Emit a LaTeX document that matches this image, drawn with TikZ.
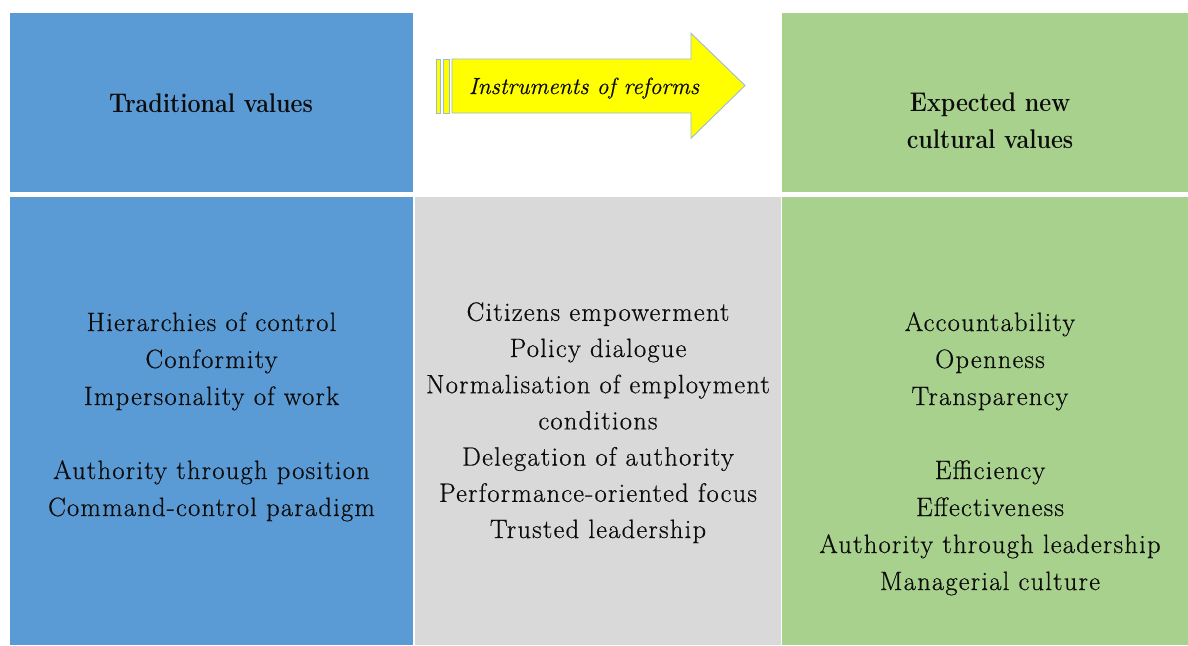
\documentclass[tikz,border=0pt]{standalone}
\usepackage{fontspec}
\setmainfont{Latin Modern Roman}
\newfontfamily\hdrfont{Latin Modern Roman}[FakeStretch=0.86]
\newfontfamily\bodyfont{Latin Modern Roman}[LetterSpace=4.7,FakeBold=0.6]
\newfontfamily\instrfont{Latin Modern Roman}[FakeBold=0.4]
\definecolor{tradblue}{HTML}{5B9BD5}
\definecolor{newgreen}{HTML}{A9D18E}
\definecolor{midgray}{HTML}{D9D9D9}
\definecolor{arrowedge}{HTML}{9BBBD0}
\definecolor{arrowfill}{HTML}{FFFF00}
\definecolor{txt}{HTML}{0C0C0C}
\begin{document}
\begin{tikzpicture}[x=1pt,y=-1pt,
  bodytext/.style={align=center,inner sep=0pt,anchor=base,text=txt,
    font=\bodyfont\fontsize{26.5}{37}\selectfont},
  headtext/.style={align=center,inner sep=0pt,anchor=base,text=txt,
    font=\hdrfont\bfseries\fontsize{27}{37}\selectfont},
  arrowshape/.style={fill=arrowfill,draw=arrowedge,line width=0.9pt,line join=miter}]
\useasboundingbox (0,0) rectangle (1188,645);
\fill[white] (0,0) rectangle (1188,645);
% panels
\fill[tradblue] (10,13) rectangle (413,192);
\fill[tradblue] (10,196.5) rectangle (413,645);
\fill[midgray] (414.5,196.5) rectangle (781,645);
\fill[newgreen] (782,13) rectangle (1188,192);
\fill[newgreen] (782,196.5) rectangle (1188,645);
% arrow
\draw[arrowshape] (436,59) rectangle (440,113);
\draw[arrowshape] (443,59) rectangle (449,113);
\draw[arrowshape] (452,59) -- (691,59) -- (691,33.3) -- (745,85.5) -- (691,138.3) -- (691,113) -- (452,113) -- cycle;
\node[inner sep=0pt,anchor=base,text=txt,font=\instrfont\itshape\fontsize{23.4}{28}\selectfont] (instr) at (584,94) {Instruments of reforms};
% headers (anchor base = last line)
\node[headtext] (tradhead) at (211,112) {Traditional values};
\node[headtext] (newhead) at (990,148) {Expected new\\cultural values};
% column texts (anchor base = last line)
\node[bodytext] (tradlist) at (211.5,516) {Hierarchies of control\\Conformity\\Impersonality of work\\[37pt]Authority through position\\Command-control paradigm};
\node[bodytext,font=\bodyfont\fontsize{26.5}{36.2}\selectfont] (reflist) at (598,538) {Citizens empowerment\\Policy dialogue\\Normalisation of employment\\conditions\\Delegation of authority\\Performance-oriented focus\\Trusted leadership};
\node[bodytext] (newlist) at (990,590) {Accountability\\Openness\\Transparency\\[37pt]Efficiency\\Effectiveness\\Authority through leadership\\Managerial culture};
\end{tikzpicture}
\end{document}
